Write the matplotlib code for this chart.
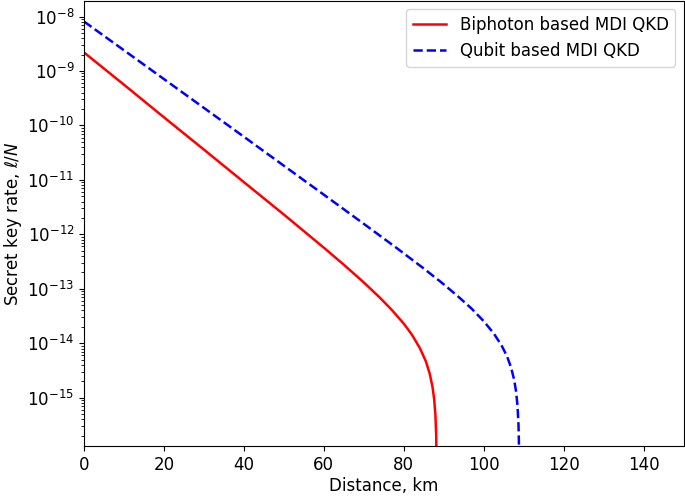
import matplotlib
matplotlib.use("Agg")
import matplotlib.pyplot as plt

# distance (km) and secret key rate
dist_biphoton = [0, 10, 20, 30, 40, 50, 60, 65, 70, 74, 77, 80, 82, 84, 85.5,
                 86.5, 87.2, 87.6, 87.9, 88.1, 88.2, 88.25]
rate_biphoton = [2.19e-9, 5.6e-10, 1.41e-10, 3.6e-11, 9.1e-12, 2.31e-12, 5.69e-13,
                 2.77e-13, 1.31e-13, 6.9e-14, 4.1e-14, 2.29e-14, 1.45e-14, 8.2e-15,
                 4.7e-15, 2.74e-15, 1.55e-15, 9.3e-16, 4.9e-16, 2.05e-16, 6.8e-17,
                 1e-18]

dist_qubit = [0, 10, 20, 30, 40, 50, 60, 70, 78, 85, 90, 94, 97, 100, 102.5,
              104.5, 105.8, 106.8, 107.6, 108.1, 108.45, 108.7, 108.82, 108.9]
rate_qubit = [8.1e-9, 2.4e-9, 7.1e-10, 2.1e-10, 6.2e-11, 1.82e-11, 5.35e-12,
              1.56e-12, 5.77e-13, 2.36e-13, 1.21e-13, 6.8e-14, 4.3e-14, 2.54e-14,
              1.52e-14, 9.0e-15, 5.8e-15, 3.66e-15, 2.15e-15, 1.28e-15, 7.0e-16,
              3.1e-16, 1.23e-16, 1e-18]

plt.rcParams['font.size'] = 12

fig = plt.figure(figsize=(6.85, 4.96), dpi=100)
ax = fig.add_axes([0.1226, 0.1008, 0.8754, 0.898])

ax.plot(dist_biphoton, rate_biphoton, 'r-', lw=1.8, label='Biphoton based MDI QKD')
ax.plot(dist_qubit, rate_qubit, 'b--', lw=1.8, label='Qubit based MDI QKD')

ax.set_yscale('log')
ax.set_xlim(0, 150)
ax.set_ylim(1.3e-16, 1.96e-8)
ax.set_xticks([0, 20, 40, 60, 80, 100, 120, 140])
ax.set_xlabel('Distance, km', labelpad=2)
ax.set_ylabel(r'Secret key rate, $\ell/N$', labelpad=2)
ax.legend(loc='upper right')

fig.savefig('out.png', dpi=100)
